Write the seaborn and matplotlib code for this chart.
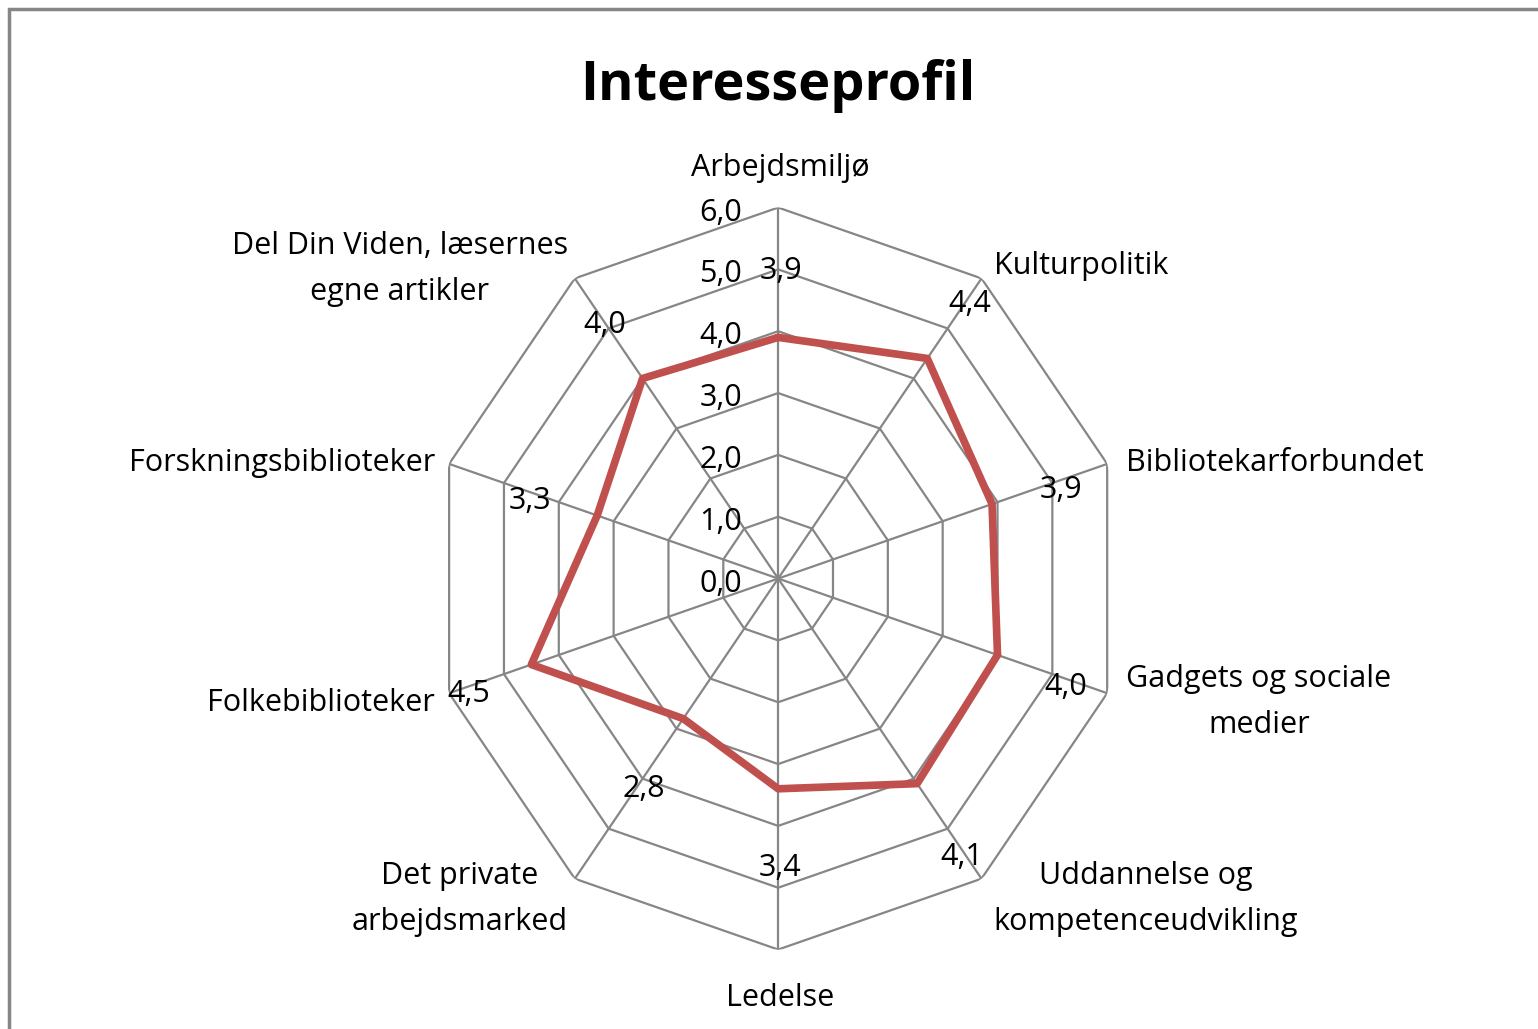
import numpy as np
import matplotlib
matplotlib.use("Agg")
import matplotlib.pyplot as plt
import seaborn as sns
from matplotlib.patches import Rectangle

sns.set_theme(style="white")
plt.rcParams['font.family'] = ['Open Sans', 'DejaVu Sans']
plt.rcParams['text.color'] = 'black'

categories = ['Arbejdsmiljø', 'Kulturpolitik', 'Bibliotekarforbundet',
              'Gadgets og sociale\nmedier', 'Uddannelse og\nkompetenceudvikling',
              'Ledelse', 'Det private\narbejdsmarked', 'Folkebiblioteker',
              'Forskningsbiblioteker', 'Del Din Viden, læsernes\negne artikler']
values = [3.9, 4.4, 3.9, 4.0, 4.1, 3.4, 2.8, 4.5, 3.3, 4.0]
ticks = [0, 1, 2, 3, 4, 5, 6]

# label offsets in pixels relative to spoke tip (layout only)
label_offsets = [(2, 40), (12, 12), (19, 1), (19, -9), (12, -20),
                 (2, -48), (-7, -20), (-14, -10), (-14, 1), (-7, 9)]
label_ha = ['center', 'left', 'left', 'left', 'left',
            'center', 'right', 'right', 'right', 'right']
# small nudges for the value labels (pixels)
value_offsets = [(3, -2), (5, -1), (9, -7), (8, -11), (7, -18),
                 (2, -11), (-2, -15), (-2, -8), (-7, -7), (-1, -2)]

grid_col = '#868686'
line_col = '#C0504D'
fs = 22

n = len(categories)
theta = np.linspace(0, 2 * np.pi, n, endpoint=False)
theta_c = np.append(theta, theta[0])

fig = plt.figure(figsize=(15.38, 10.29), dpi=100)
ax = fig.add_axes([0.2810, 0.0772, 0.4499, 0.7211], projection='polar')
ax.set_aspect('auto')
ax.set_theta_zero_location('N')
ax.set_theta_direction(-1)
ax.set_ylim(0, 6)
ax.grid(False)
ax.set_xticks([])
ax.set_yticks([])
ax.spines['polar'].set_visible(False)
ax.patch.set_alpha(0)

# polygon grid
for t in ticks[1:]:
    ax.plot(theta_c, [t] * (n + 1), color=grid_col, lw=1.6, zorder=1)
for th in theta:
    ax.plot([th, th], [0, 6], color=grid_col, lw=1.6, zorder=1)

# radial tick labels along the top spoke
for t in ticks:
    ax.annotate(f"{t:.1f}".replace('.', ','), xy=(0, t), xytext=(-36, -5),
                textcoords='offset pixels', ha='right', va='center', fontsize=fs)

# data series
vals_c = values + [values[0]]
sns.lineplot(x=theta_c, y=vals_c, ax=ax, color=line_col, lw=5.5, sort=False,
             estimator=None, zorder=3)

# data labels
for th, v, off in zip(theta, values, value_offsets):
    ax.annotate(f"{v:.1f}".replace('.', ','), xy=(th, v + 1.1), xytext=off,
                textcoords='offset pixels', ha='center', va='center',
                fontsize=fs, zorder=4)

# category labels
for th, cat, off, ha in zip(theta, categories, label_offsets, label_ha):
    ax.annotate(cat, xy=(th, 6), xytext=off, textcoords='offset pixels',
                ha=ha, va='center', multialignment='center', fontsize=fs,
                linespacing=1.7, annotation_clip=False)

fig.text(0.506, 0.916, 'Interesseprofil', ha='center', va='center',
         fontsize=39, fontweight='bold')

# chart frame
fig.patches.append(Rectangle((9 / 1538, -0.1), 1.2, 1.1 - 9 / 1029,
                             transform=fig.transFigure, fill=False,
                             edgecolor=grid_col, lw=2.5))

fig.savefig('out.png', dpi=100)
